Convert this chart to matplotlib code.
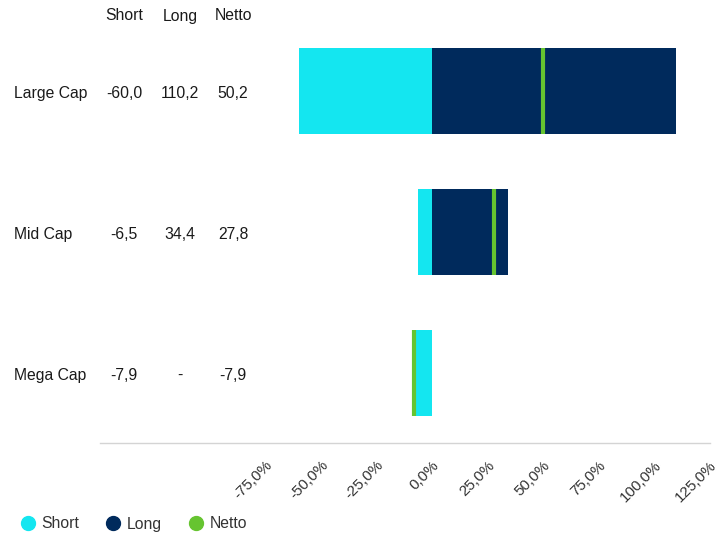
import matplotlib
matplotlib.use("Agg")
import matplotlib.pyplot as plt
import matplotlib.transforms as mtransforms
from matplotlib.lines import Line2D
import numpy as np

plt.rcParams['font.family'] = ['Liberation Sans', 'DejaVu Sans']

categories = ["Large Cap", "Mid Cap", "Mega Cap"]
short_vals = [-60.0, -6.5, -7.9]
long_vals = [110.2, 34.4, None]
netto_vals = [50.2, 27.8, -7.9]
column_headers = ["Short", "Long", "Netto"]
tick_values = [-75, -50, -25, 0, 25, 50, 75, 100, 125]

c_short = "#14E6F0"
c_long = "#002A5C"
c_netto = "#66C430"
txt = "#1a1a1a"
fs = 11.3

W, H = 727, 536
fig = plt.figure(figsize=(W / 100, H / 100), dpi=100)
ax = fig.add_axes([100 / W, (H - 443) / H, (710 - 100) / W, (443 - 20.5) / H])

y = np.arange(len(categories))
bh = 0.61
ax.barh(y, short_vals, height=bh, color=c_short, zorder=2)
long_plot = [v if v is not None else 0 for v in long_vals]
ax.barh(y, long_plot, height=bh, color=c_long, zorder=2)
ax.vlines(netto_vals, y - bh / 2, y + bh / 2, colors=c_netto, linewidth=3.0, zorder=3)

ax.set_xlim(-149.6, 125.3)
ax.set_ylim(2.5, -0.5)
ax.set_xticks(tick_values)
ax.set_xticklabels([f"{v:.1f}%".replace(".", ",") for v in tick_values],
                   rotation=45, ha="right", rotation_mode="anchor",
                   fontsize=11, color="#333333")
ax.tick_params(axis="x", length=0, pad=11)
ax.set_yticks([])
for s in ["top", "right", "left"]:
    ax.spines[s].set_visible(False)
ax.spines["bottom"].set_color("#d4d4d4")
ax.spines["bottom"].set_linewidth(1.0)

# table
trans = mtransforms.blended_transform_factory(fig.transFigure, ax.transData)
offset = mtransforms.ScaledTranslation(0, -2.5 / 100, fig.dpi_scale_trans)
col_x = [124 / W, 180 / W, 233 / W]
for cx, h in zip(col_x, column_headers):
    fig.text(cx, 1 - 16 / H, h, ha="center", va="center", fontsize=fs, color=txt)

def fmt(v):
    if v is None:
        return "-"
    return f"{v:.1f}".replace(".", ",")

for i, cat in enumerate(categories):
    fig.text(14 / W, i, cat, transform=trans + offset, ha="left", va="center", fontsize=fs, color=txt)
    for cx, v in zip(col_x, [short_vals[i], long_vals[i], netto_vals[i]]):
        fig.text(cx, i, fmt(v), transform=trans + offset, ha="center", va="center", fontsize=fs, color=txt)

handles = [Line2D([], [], marker="o", linestyle="none", markersize=10, color=c)
           for c in [c_short, c_long, c_netto]]
fig.legend(handles, column_headers, loc="center left", bbox_to_anchor=(4 / W, 1 - 524 / H),
           ncol=3, frameon=False, fontsize=fs, handletextpad=0.25, columnspacing=1.6,
           handlelength=1.2, labelcolor="#333333")

fig.savefig("out.png", dpi=100)
